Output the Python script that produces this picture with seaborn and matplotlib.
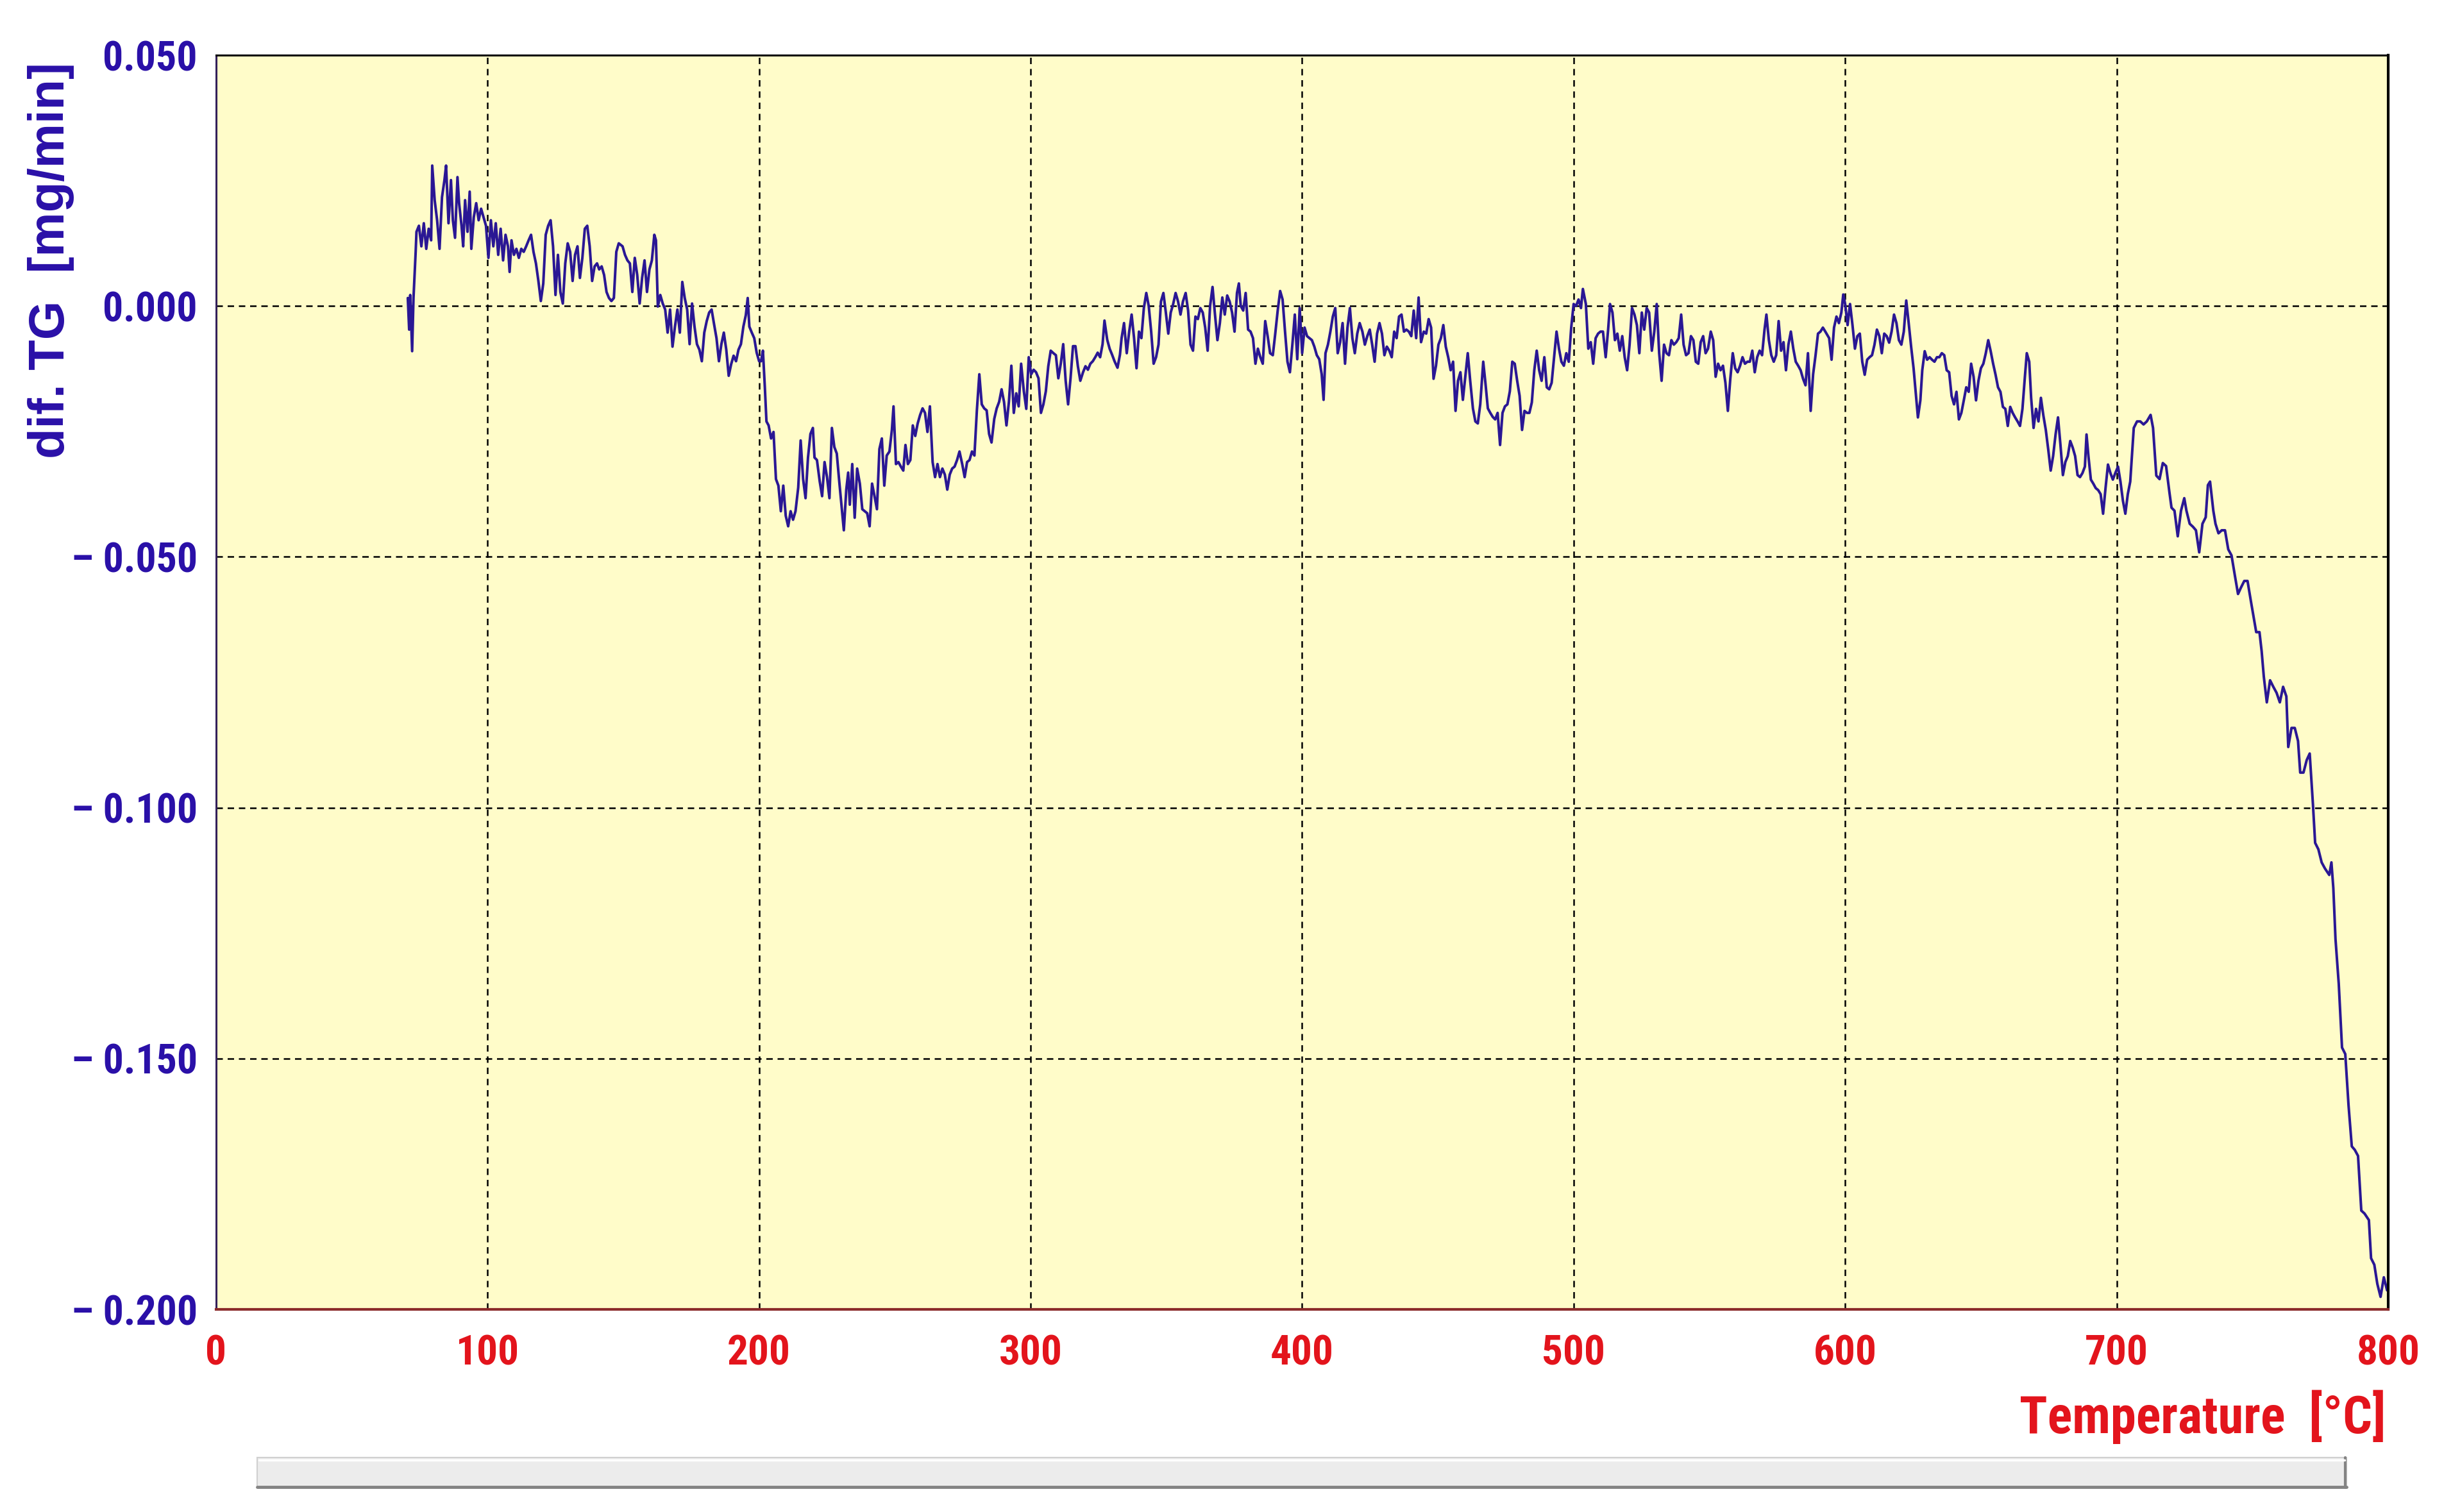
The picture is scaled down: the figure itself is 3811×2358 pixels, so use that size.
import numpy as np
import pandas as pd
import matplotlib
matplotlib.use("Agg")
import matplotlib.pyplot as plt
import seaborn as sns
from matplotlib.patches import Rectangle
from matplotlib.lines import Line2D

# ---------------- data ----------------
temp_a = [70.6, 71.1, 71.5, 72.2, 72.7, 73.1, 73.5, 73.8, 74.7, 75.6,
          76.5, 77.4, 78.3, 79.2, 79.6, 80.5, 81.4, 82.3, 83.2, 84.1,
          84.7, 85.6, 86.5, 87.2, 88.0, 88.9, 89.5, 90.4, 91.0, 91.7,
          92.6, 93.4, 94.0, 94.9, 95.8, 96.7, 97.6, 98.5, 99.4, 100.3,
          101.2, 102.1, 103.0, 103.9, 104.8, 105.7, 106.6, 107.5, 108.1, 108.8,
          109.7, 110.6, 111.5, 112.4, 113.3, 114.2, 115.1, 116.0, 116.9, 117.8,
          118.7, 119.6, 120.5, 121.4, 122.3, 123.2, 124.1, 125.0, 125.9, 126.8,
          127.7, 128.6, 129.5, 130.4, 131.3, 132.2, 133.1, 134.0, 134.9, 135.8,
          136.7, 137.6, 138.5, 139.4, 140.3, 141.1, 142.0, 142.9, 143.8, 144.7,
          145.6, 146.5, 147.4, 148.3, 149.7, 150.6, 151.5, 152.4, 153.3, 154.2,
          155.1, 156.0, 156.9, 157.8, 158.7, 159.6, 160.5, 161.4, 162.0, 162.7,
          163.6, 164.5, 165.4, 166.3, 167.2, 168.1, 169.0, 169.9, 170.8, 171.7,
          172.6, 173.5, 174.4, 175.3, 176.2, 177.1, 178.0, 178.9, 179.8, 180.7,
          181.6, 182.5, 183.4, 184.3, 185.2, 186.1, 187.0, 187.9, 188.8, 189.7,
          190.6, 191.5, 192.4, 193.3, 194.2, 195.1, 195.8, 196.4, 197.3, 198.2,
          199.1, 200.0]
dtg_a = [0.0016, -0.0047, 0.0022, -0.0090, 0.0016, 0.0062, 0.0108, 0.0148, 0.0160, 0.0119,
         0.0165, 0.0114, 0.0154, 0.0131, 0.0280, 0.0211, 0.0171, 0.0114, 0.0217, 0.0251,
         0.0280, 0.0165, 0.0251, 0.0171, 0.0136, 0.0257, 0.0205, 0.0160, 0.0119, 0.0211,
         0.0148, 0.0228, 0.0114, 0.0177, 0.0205, 0.0171, 0.0194, 0.0177, 0.0160, 0.0096,
         0.0171, 0.0119, 0.0165, 0.0102, 0.0154, 0.0091, 0.0142, 0.0119, 0.0068, 0.0131,
         0.0102, 0.0114, 0.0096, 0.0114, 0.0108, 0.0119, 0.0131, 0.0142, 0.0108, 0.0085,
         0.0050, 0.0010, 0.0045, 0.0142, 0.0160, 0.0171, 0.0119, 0.0022, 0.0102, 0.0028,
         0.0005, 0.0085, 0.0125, 0.0108, 0.0050, 0.0102, 0.0119, 0.0056, 0.0096, 0.0154,
         0.0160, 0.0119, 0.0050, 0.0079, 0.0085, 0.0073, 0.0079, 0.0062, 0.0028, 0.0016,
         0.0010, 0.0016, 0.0108, 0.0125, 0.0119, 0.0102, 0.0091, 0.0085, 0.0028, 0.0096,
         0.0062, 0.0005, 0.0056, 0.0091, 0.0028, 0.0073, 0.0091, 0.0142, 0.0131, -0.0001,
         0.0022, 0.0005, -0.0007, -0.0053, -0.0007, -0.0081, -0.0041, -0.0007, -0.0053, 0.0048,
         0.0016, -0.0007, -0.0076, 0.0005, -0.0041, -0.0076, -0.0087, -0.0110, -0.0053, -0.0030,
         -0.0013, -0.0007, -0.0036, -0.0064, -0.0110, -0.0076, -0.0053, -0.0087, -0.0139, -0.0116,
         -0.0099, -0.0110, -0.0087, -0.0076, -0.0041, -0.0018, 0.0016, -0.0041, -0.0053, -0.0064,
         -0.0093, -0.0110]

temp_b = [200.7, 201.4, 202.1, 202.7, 203.5, 204.4, 205.3, 206.2, 207.1, 208.0,
          208.9, 209.8, 210.7, 211.6, 212.5, 213.4, 214.4, 215.3, 216.2, 217.1,
          218.0, 218.9, 219.8, 220.4, 221.3, 222.3, 223.2, 224.1, 225.0, 225.9,
          226.8, 227.7, 228.6, 229.5, 230.4, 231.2, 232.1, 232.8, 233.4, 234.3,
          235.2, 236.1, 237.1, 238.0, 238.9, 239.8, 240.7, 241.6, 242.5, 243.4,
          244.3, 245.2, 246.1, 247.0, 248.0, 248.9, 249.5, 250.4, 251.3, 252.2,
          253.1, 253.9, 254.8, 255.7, 256.6, 257.5, 258.4, 259.3, 260.2, 261.1,
          262.0, 262.9, 263.9, 264.8, 265.7, 266.6, 267.5, 268.4, 269.3, 270.2,
          271.1, 272.0, 272.9, 273.8, 274.8, 275.7, 276.6, 277.5, 278.4, 279.3,
          280.2, 281.1, 282.0, 282.9, 283.8, 284.7, 285.6, 286.6, 287.5, 288.4,
          289.3, 290.2, 291.1, 292.0, 292.9, 293.8, 294.7, 295.6, 296.5, 297.5,
          298.4, 299.3, 300.2, 301.1, 302.0, 302.9, 303.8, 304.7, 305.6, 306.5,
          307.4, 308.4, 309.3, 310.2, 311.1, 312.0, 312.9, 313.8, 314.7, 315.6,
          316.5, 317.4, 318.3, 319.3, 320.2, 321.1, 322.0, 322.9, 323.8, 324.7,
          325.6, 326.5, 327.2, 328.2, 329.1, 330.0, 330.9, 332.0, 332.9]
dtg_b = [-0.0110, -0.0089, -0.0161, -0.0230, -0.0238, -0.0264, -0.0251, -0.0345, -0.0358, -0.0409,
         -0.0358, -0.0418, -0.0439, -0.0409, -0.0426, -0.0409, -0.0362, -0.0268, -0.0345, -0.0383,
         -0.0302, -0.0255, -0.0243, -0.0302, -0.0307, -0.0349, -0.0379, -0.0311, -0.0341, -0.0383,
         -0.0243, -0.0281, -0.0294, -0.0349, -0.0401, -0.0447, -0.0366, -0.0332, -0.0396, -0.0315,
         -0.0422, -0.0324, -0.0354, -0.0405, -0.0409, -0.0413, -0.0439, -0.0354, -0.0379, -0.0405,
         -0.0285, -0.0264, -0.0358, -0.0298, -0.0290, -0.0247, -0.0200, -0.0315, -0.0311, -0.0320,
         -0.0328, -0.0277, -0.0315, -0.0307, -0.0238, -0.0259, -0.0234, -0.0217, -0.0204, -0.0213,
         -0.0251, -0.0200, -0.0311, -0.0341, -0.0315, -0.0341, -0.0324, -0.0336, -0.0366, -0.0336,
         -0.0324, -0.0320, -0.0307, -0.0290, -0.0315, -0.0341, -0.0311, -0.0307, -0.0290, -0.0298,
         -0.0208, -0.0136, -0.0196, -0.0204, -0.0208, -0.0255, -0.0272, -0.0225, -0.0204, -0.0191,
         -0.0166, -0.0191, -0.0238, -0.0191, -0.0119, -0.0213, -0.0174, -0.0200, -0.0115, -0.0170,
         -0.0205, -0.0102, -0.0136, -0.0127, -0.0132, -0.0144, -0.0213, -0.0196, -0.0170, -0.0120,
         -0.0089, -0.0094, -0.0098, -0.0144, -0.0115, -0.0076, -0.0149, -0.0196, -0.0144, -0.0080,
         -0.0080, -0.0120, -0.0149, -0.0132, -0.0120, -0.0127, -0.0115, -0.0110, -0.0102, -0.0093,
         -0.0102, -0.0076, -0.0029, -0.0067, -0.0085, -0.0097, -0.0110, -0.0123, -0.0097]

temp_c = [333.5, 334.4, 335.4, 336.3, 337.2, 338.1, 339.0, 339.9, 340.8, 341.7,
          342.6, 343.5, 344.4, 345.3, 346.2, 347.1, 348.0, 348.9, 349.8, 350.7,
          351.6, 352.5, 353.4, 354.3, 355.2, 356.1, 357.1, 358.0, 358.9, 359.8,
          360.7, 361.6, 362.5, 363.4, 364.3, 365.2, 366.1, 367.0, 367.9, 368.8,
          369.7, 370.6, 371.5, 372.4, 373.3, 374.2, 375.1, 376.0, 376.7, 377.4,
          378.3, 379.2, 380.1, 381.0, 381.9, 382.8, 383.7, 384.6, 385.5, 386.4,
          387.3, 388.2, 389.2, 390.1, 391.0, 391.9, 392.8, 393.7, 394.6, 395.5,
          396.4, 397.3, 398.2, 399.1, 400.0, 400.9, 401.8, 402.7, 403.6, 404.5,
          405.4, 406.3, 407.2, 407.9, 408.6, 409.5, 410.4, 411.3, 412.2, 413.1,
          414.0, 414.9, 415.8, 416.7, 417.6, 418.5, 419.4, 420.3, 421.2, 422.2,
          423.1, 424.0, 424.9, 425.8, 426.7, 427.6, 428.5, 429.4, 430.3, 431.2,
          432.1, 433.0, 433.9, 434.8, 435.7, 436.6, 437.5, 438.4, 439.3, 440.2,
          441.1, 442.0, 442.9, 443.8, 444.8, 445.7, 446.6, 447.5, 448.4, 449.3,
          450.2, 451.1, 452.0, 452.9, 453.8, 454.7, 455.6, 456.5, 457.4, 458.3,
          459.2, 460.1, 461.0, 461.9]
dtg_c = [-0.0064, -0.0034, -0.0094, -0.0051, -0.0017, -0.0064, -0.0124, -0.0051, -0.0064, -0.0004,
         0.0026, 0.0000, -0.0051, -0.0115, -0.0102, -0.0077, 0.0009, 0.0026, -0.0013, -0.0055,
         -0.0013, 0.0004, 0.0026, 0.0009, -0.0017, 0.0009, 0.0026, -0.0009, -0.0077, -0.0089,
         -0.0021, -0.0026, -0.0004, -0.0013, -0.0043, -0.0089, 0.0000, 0.0038, -0.0017, -0.0068,
         -0.0034, 0.0017, -0.0017, 0.0021, 0.0009, -0.0013, -0.0051, 0.0026, 0.0045, 0.0000,
         -0.0009, 0.0026, -0.0047, -0.0051, -0.0064, -0.0115, -0.0085, -0.0102, -0.0115, -0.0030,
         -0.0060, -0.0094, -0.0098, -0.0055, -0.0009, 0.0030, 0.0013, -0.0051, -0.0111, -0.0132,
         -0.0077, -0.0017, -0.0106, -0.0004, -0.0094, -0.0043, -0.0060, -0.0064, -0.0068, -0.0081,
         -0.0098, -0.0106, -0.0136, -0.0187, -0.0094, -0.0077, -0.0051, -0.0021, -0.0004, -0.0094,
         -0.0072, -0.0034, -0.0115, -0.0043, -0.0004, -0.0064, -0.0094, -0.0055, -0.0034, -0.0051,
         -0.0077, -0.0060, -0.0047, -0.0077, -0.0111, -0.0055, -0.0034, -0.0055, -0.0098, -0.0081,
         -0.0089, -0.0102, -0.0051, -0.0064, -0.0021, -0.0017, -0.0051, -0.0047, -0.0051, -0.0060,
         -0.0009, -0.0064, 0.0017, -0.0072, -0.0051, -0.0055, -0.0026, -0.0043, -0.0145, -0.0119,
         -0.0077, -0.0064, -0.0038, -0.0081, -0.0102, -0.0128, -0.0111, -0.0209, -0.0149, -0.0132,
         -0.0187, -0.0141, -0.0094, -0.0149]

temp_d = [462.9, 463.8, 464.7, 465.6, 466.7, 467.5, 468.4, 469.3, 470.2, 471.1,
          472.0, 472.9, 473.8, 474.7, 475.6, 476.5, 477.4, 478.3, 479.2, 480.1,
          481.0, 481.9, 482.8, 483.7, 484.6, 485.5, 486.4, 487.3, 488.2, 489.2,
          490.1, 491.0, 491.9, 492.8, 493.7, 494.6, 495.5, 496.4, 497.3, 498.2,
          499.1, 500.0, 500.9, 501.8, 502.7, 503.4, 504.5, 505.4, 506.3, 507.2,
          508.1, 509.0, 509.9, 510.8, 511.8, 512.7, 513.4, 514.3, 515.2, 516.1,
          517.0, 517.9, 518.8, 519.7, 520.6, 521.5, 522.4, 523.3, 524.2, 525.1,
          526.0, 526.9, 527.8, 528.8, 529.7, 530.6, 531.5, 532.4, 533.3, 534.2,
          535.1, 536.0, 536.9, 537.8, 538.7, 539.6, 540.5, 541.4, 542.3, 543.2,
          544.1, 545.0, 545.9, 546.8, 547.7, 548.6, 549.5, 550.5, 551.4, 552.3,
          553.2, 554.1, 555.0, 555.9, 556.8, 557.7, 558.6, 559.5, 560.4, 561.3,
          562.2, 563.1, 564.0, 564.9, 565.8, 566.7, 567.6, 568.5, 569.4, 570.3,
          571.0, 571.9, 572.8, 573.7, 574.6, 575.5, 576.4, 577.3, 578.2, 579.1,
          580.0, 580.9, 581.8, 582.7, 583.6, 584.5, 585.4, 586.3, 587.3, 588.2,
          589.1, 590.0, 590.9, 591.8, 592.7]
dtg_d = [-0.0204, -0.0230, -0.0234, -0.0196, -0.0111, -0.0153, -0.0204, -0.0213, -0.0221, -0.0226,
         -0.0213, -0.0277, -0.0213, -0.0200, -0.0196, -0.0170, -0.0111, -0.0115, -0.0149, -0.0179,
         -0.0247, -0.0209, -0.0213, -0.0213, -0.0192, -0.0128, -0.0089, -0.0128, -0.0149, -0.0102,
         -0.0162, -0.0166, -0.0153, -0.0102, -0.0051, -0.0085, -0.0111, -0.0119, -0.0094, -0.0111,
         -0.0043, 0.0004, 0.0000, 0.0013, -0.0004, 0.0034, 0.0004, -0.0085, -0.0072, -0.0115,
         -0.0064, -0.0055, -0.0051, -0.0051, -0.0102, -0.0047, 0.0004, -0.0013, -0.0068, -0.0055,
         -0.0089, -0.0060, -0.0102, -0.0128, -0.0077, -0.0004, -0.0017, -0.0038, -0.0094, -0.0013,
         -0.0047, -0.0004, -0.0013, -0.0089, -0.0051, 0.0004, -0.0094, -0.0149, -0.0077, -0.0094,
         -0.0098, -0.0068, -0.0077, -0.0072, -0.0064, -0.0017, -0.0077, -0.0098, -0.0094, -0.0060,
         -0.0068, -0.0111, -0.0115, -0.0072, -0.0060, -0.0094, -0.0085, -0.0051, -0.0068, -0.0141,
         -0.0115, -0.0128, -0.0119, -0.0153, -0.0209, -0.0145, -0.0094, -0.0124, -0.0132, -0.0119,
         -0.0102, -0.0115, -0.0111, -0.0111, -0.0089, -0.0132, -0.0102, -0.0089, -0.0098, -0.0047,
         -0.0017, -0.0068, -0.0098, -0.0111, -0.0098, -0.0030, -0.0089, -0.0072, -0.0128, -0.0077,
         -0.0051, -0.0085, -0.0111, -0.0119, -0.0128, -0.0145, -0.0158, -0.0094, -0.0209, -0.0136,
         -0.0098, -0.0055, -0.0051, -0.0043, -0.0051]

temp_e = [594.1, 595.0, 595.9, 596.8, 597.7, 598.6, 599.3, 600.0, 600.9, 601.8,
          602.7, 603.6, 604.5, 605.4, 606.3, 607.2, 608.1, 609.0, 609.9, 610.8,
          611.7, 612.6, 613.5, 614.4, 615.3, 616.2, 617.1, 618.0, 618.9, 619.8,
          620.7, 621.6, 622.5, 623.4, 624.3, 625.2, 626.1, 626.8, 627.7, 628.4,
          629.3, 630.2, 631.1, 632.0, 632.9, 633.8, 634.7, 635.6, 636.5, 637.4,
          638.3, 639.2, 640.1, 641.0, 641.9, 642.8, 643.7, 644.6, 645.5, 646.4,
          647.3, 648.2, 649.1, 650.0, 650.9, 651.8, 652.7, 653.6, 654.5, 655.4,
          656.3, 657.2, 658.1, 659.0, 659.9, 660.8, 661.7, 662.6, 663.5, 664.4,
          665.3, 666.2, 666.9, 667.8, 668.5, 669.4, 670.3, 671.2, 672.1, 673.0,
          673.9, 674.8, 675.7, 676.6, 677.5, 678.4, 679.3, 680.2, 681.1, 682.0,
          682.9, 683.8, 684.7, 685.6, 686.5, 687.4, 688.3, 688.9, 689.6, 690.5,
          691.4, 692.3, 693.2, 694.1, 695.0, 695.9, 696.8, 697.7, 698.6, 699.5,
          700.5, 701.4, 702.3, 703.2, 704.1, 705.0]
dtg_e = [-0.0064, -0.0107, -0.0043, -0.0021, -0.0034, -0.0013, 0.0023, 0.0004, -0.0038, 0.0004,
         -0.0038, -0.0085, -0.0060, -0.0055, -0.0111, -0.0137, -0.0107, -0.0102, -0.0098, -0.0077,
         -0.0047, -0.0060, -0.0094, -0.0055, -0.0060, -0.0073, -0.0051, -0.0017, -0.0034, -0.0068,
         -0.0077, -0.0051, 0.0011, -0.0034, -0.0081, -0.0124, -0.0179, -0.0222, -0.0188, -0.0128,
         -0.0090, -0.0107, -0.0102, -0.0107, -0.0111, -0.0102, -0.0102, -0.0094, -0.0098, -0.0128,
         -0.0132, -0.0179, -0.0196, -0.0171, -0.0226, -0.0213, -0.0188, -0.0162, -0.0171, -0.0115,
         -0.0141, -0.0188, -0.0149, -0.0124, -0.0115, -0.0094, -0.0068, -0.0090, -0.0115, -0.0137,
         -0.0162, -0.0171, -0.0201, -0.0205, -0.0239, -0.0201, -0.0213, -0.0222, -0.0230, -0.0239,
         -0.0205, -0.0141, -0.0094, -0.0111, -0.0183, -0.0243, -0.0205, -0.0230, -0.0183, -0.0218,
         -0.0247, -0.0286, -0.0328, -0.0299, -0.0256, -0.0222, -0.0277, -0.0337, -0.0311, -0.0299,
         -0.0269, -0.0282, -0.0299, -0.0337, -0.0341, -0.0333, -0.0320, -0.0256, -0.0299, -0.0346,
         -0.0354, -0.0363, -0.0367, -0.0375, -0.0414, -0.0363, -0.0316, -0.0333, -0.0346, -0.0333,
         -0.0320, -0.0350, -0.0388, -0.0414, -0.0375, -0.0350]

temp_f = [706.3, 707.5, 708.7, 709.9, 711.1, 712.5, 713.4, 714.6, 715.8, 717.0,
          718.2, 719.4, 720.2, 721.3, 722.5, 723.7, 724.9, 725.7, 726.9, 728.1,
          729.2, 730.4, 731.6, 732.8, 733.6, 734.4, 735.6, 736.4, 737.5, 738.7,
          739.9, 741.1, 742.3, 743.5, 744.7, 745.8, 747.0, 748.2, 749.4, 750.6,
          751.4, 752.6, 753.4, 754.2, 755.3, 756.5, 757.7, 758.9, 760.1, 761.3,
          762.5, 763.2, 764.4, 765.6, 766.8, 767.6, 768.8, 770.0, 771.1, 772.3,
          773.1, 774.3, 775.5, 776.7, 778.3, 779.1, 779.8, 780.6, 781.8, 783.0,
          784.2, 785.4, 786.6, 787.7, 788.9, 790.1, 791.3, 792.9, 793.7, 794.9,
          796.0, 797.2, 798.4, 799.6]
dtg_f = [-0.0243, -0.0230, -0.0230, -0.0236, -0.0230, -0.0217, -0.0243, -0.0338, -0.0345, -0.0313,
         -0.0319, -0.0370, -0.0402, -0.0408, -0.0459, -0.0408, -0.0383, -0.0408, -0.0434, -0.0440,
         -0.0447, -0.0491, -0.0434, -0.0421, -0.0357, -0.0350, -0.0408, -0.0434, -0.0453, -0.0447,
         -0.0447, -0.0485, -0.0497, -0.0536, -0.0574, -0.0561, -0.0548, -0.0548, -0.0587, -0.0625,
         -0.0650, -0.0650, -0.0688, -0.0739, -0.0790, -0.0746, -0.0759, -0.0771, -0.0790, -0.0759,
         -0.0778, -0.0879, -0.0841, -0.0841, -0.0867, -0.0930, -0.0930, -0.0905, -0.0892, -0.0994,
         -0.1070, -0.1083, -0.1109, -0.1121, -0.1134, -0.1109, -0.1160, -0.1262, -0.1351, -0.1478,
         -0.1491, -0.1593, -0.1675, -0.1682, -0.1694, -0.1803, -0.1809, -0.1822, -0.1898, -0.1911,
         -0.1949, -0.1975, -0.1936, -0.1962]

x_ticks = [0, 100, 200, 300, 400, 500, 600, 700, 800]
x_tick_labels = ["0", "100", "200", "300", "400", "500", "600", "700", "800"]
y_ticks = [0.05, 0.0, -0.05, -0.10, -0.15, -0.20]
y_tick_labels = ["0.050", "0.000", "\u2013 0.050", "\u2013 0.100", "\u2013 0.150", "\u2013 0.200"]
x_label = "Temperature  [\u00b0C]"
y_label = "dif. TG  [mg/min]"

# ---------------- assemble ----------------
temperature = np.concatenate([temp_a, temp_b, temp_c, temp_d, temp_e, temp_f])
dtg = np.concatenate([dtg_a, dtg_b, dtg_c, dtg_d, dtg_e, dtg_f])
df = pd.DataFrame({"Temperature": temperature, "dTG": dtg})

sns.set_style("white")
NARROW = ["Roboto Condensed", "Liberation Sans", "DejaVu Sans"]
WIDE = ["Liberation Sans", "DejaVu Sans"]
plt.rcParams["font.family"] = NARROW

BLUE_TXT = "#2A10A8"
RED_TXT = "#E3141C"
LINE_COL = "#2A1794"
BG = "#FFFCC9"

fig = plt.figure(figsize=(38.12, 23.58), dpi=100)
fig.patch.set_facecolor("white")
ax = fig.add_axes([0.0884, 0.1340, 0.8885, 0.8295])
ax.set_facecolor(BG)

sns.lineplot(data=df, x="Temperature", y="dTG", ax=ax, color=LINE_COL,
             linewidth=2.9, estimator=None, sort=False, legend=False)

ax.set_xlim(0, 800)
ax.set_ylim(-0.2, 0.05)
ax.set_xticks(x_ticks)
ax.set_xticklabels(x_tick_labels, fontsize=47, fontweight="bold", color=RED_TXT, family=NARROW)
ax.set_yticks(y_ticks)
ax.set_yticklabels(y_tick_labels, fontsize=46, fontweight="bold", color=BLUE_TXT, family=NARROW)

ax.grid(True, color="black", linestyle=(0, (4, 3)), linewidth=1.8)
ax.tick_params(axis="x", direction="out", length=20, width=1.8, color="#5A2424", pad=8)
ax.tick_params(axis="y", direction="out", length=17, width=1.8, color="#2A1A50", pad=4)

ax.spines["left"].set_color("#33205A")
ax.spines["left"].set_linewidth(2.2)
ax.spines["bottom"].set_color("#8B2B2B")
ax.spines["bottom"].set_linewidth(3.0)
ax.spines["top"].set_color("black")
ax.spines["top"].set_linewidth(2.2)
ax.spines["right"].set_color("black")
ax.spines["right"].set_linewidth(3.0)

ax.set_xlabel(x_label, fontsize=58, fontweight="bold", color=RED_TXT, family=NARROW)
ax.xaxis.set_label_coords(0.9988, -0.0859)
ax.xaxis.label.set_ha("right")
ax.xaxis.label.set_va("center")

ax.set_ylabel(y_label, fontsize=56, fontweight="bold", color=BLUE_TXT, family=WIDE)
ax.yaxis.label.set_rotation_mode("anchor")
ax.yaxis.set_label_coords(-0.0759, 0.9944)
ax.yaxis.label.set_ha("right")
ax.yaxis.label.set_va("center")

# horizontal scroll bar under the plot (decoration)
bar = Rectangle((0.1052, 0.0161), 0.8547, 0.0199, transform=fig.transFigure,
                facecolor="#ECECEC", edgecolor="#D0D0D0", linewidth=1.5)
fig.patches.append(bar)
fig.lines.append(Line2D([0.1052, 0.9599], [0.0166, 0.0166], transform=fig.transFigure,
                        color="#848484", linewidth=3.5))
fig.lines.append(Line2D([0.9594, 0.9594], [0.0161, 0.0360], transform=fig.transFigure,
                        color="#848484", linewidth=3.0))
fig.lines.append(Line2D([0.1060, 0.9590], [0.0345, 0.0345], transform=fig.transFigure,
                        color="#FFFFFF", linewidth=2.5))

fig.savefig("out.png", dpi=100, facecolor="white")
